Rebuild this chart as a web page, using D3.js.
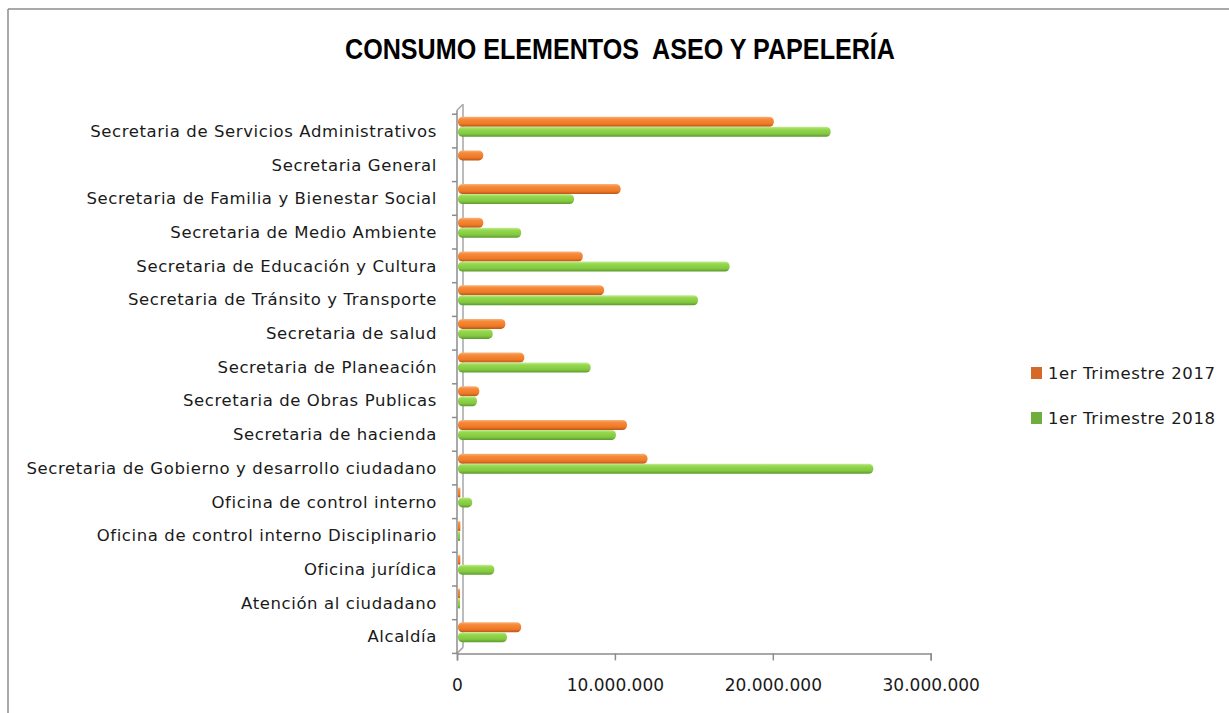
<!DOCTYPE html>
<html>
<head>
<meta charset="utf-8">
<script src="https://cdn.jsdelivr.net/npm/d3@7"></script>
<style>
  body { margin: 0; background: #fff; }
  svg { display: block; }
</style>
</head>
<body>
<svg id="chart"></svg>
<script>
// categories top to bottom
const categories = [
  "Secretaria de Servicios Administrativos",
  "Secretaria General",
  "Secretaria de Familia y Bienestar Social",
  "Secretaria de Medio Ambiente",
  "Secretaria de Educación y Cultura",
  "Secretaria de Tránsito y Transporte",
  "Secretaria de salud",
  "Secretaria de Planeación",
  "Secretaria de Obras Publicas",
  "Secretaria de hacienda",
  "Secretaria de Gobierno y desarrollo ciudadano",
  "Oficina de control interno",
  "Oficina de control interno Disciplinario",
  "Oficina jurídica",
  "Atención al ciudadano",
  "Alcaldía"
];
const trim2017 = [20000000, 1600000, 10300000, 1600000, 7900000, 9250000, 3000000, 4200000, 1350000, 10700000, 12000000, 150000, 150000, 150000, 100000, 4000000];
const trim2018 = [23600000, 0, 7350000, 4000000, 17200000, 15200000, 2200000, 8400000, 1200000, 10000000, 26300000, 900000, 100000, 2300000, 100000, 3100000];
const seriesNames = ["1er Trimestre 2017", "1er Trimestre 2018"];
const xTicks = [0, 10000000, 20000000, 30000000];

const width = 1229, height = 713;
const svg = d3.select("#chart").attr("width", width).attr("height", height);

const locale = d3.formatLocale({decimal: ",", thousands: ".", grouping: [3], currency: ["$", ""]});
const fmt = locale.format(",");

const labelFont = "'DejaVu Sans', Verdana, sans-serif";

// gradients for the cylinder look
const defs = svg.append("defs");
function grad(id, stops) {
  const g = defs.append("linearGradient").attr("id", id)
    .attr("x1", 0).attr("y1", 0).attr("x2", 0).attr("y2", 1);
  stops.forEach(s => g.append("stop").attr("offset", s[0]).attr("stop-color", s[1]));
}
grad("gOrange", [[0, "#f9b47c"], [0.25, "#f68a3a"], [0.7, "#ef7a26"], [1, "#b9561c"]]);
grad("gGreen", [[0, "#c6ec94"], [0.25, "#93d84d"], [0.7, "#84c842"], [1, "#5c9a2c"]]);
const fills = ["url(#gOrange)", "url(#gGreen)"];
const legendFills = ["#d4692a", "#6fae3c"];

// outer frame (only top and left visible)
svg.append("line").attr("x1", 8).attr("x2", width).attr("y1", 9).attr("y2", 9)
  .attr("stroke", "#8c8c8c").attr("stroke-width", 1.5);
svg.append("line").attr("x1", 8).attr("x2", 8).attr("y1", 9).attr("y2", height)
  .attr("stroke", "#8c8c8c").attr("stroke-width", 1.5);

// title
svg.append("text")
  .attr("x", 620).attr("y", 59)
  .attr("text-anchor", "middle")
  .attr("textLength", 550)
  .attr("lengthAdjust", "spacingAndGlyphs")
  .style("font-family", "'Liberation Sans', Arial, sans-serif")
  .style("font-weight", "bold")
  .style("font-size", "29px")
  .style("white-space", "pre")
  .text("CONSUMO ELEMENTOS  ASEO Y PAPELERÍA");

const x = d3.scaleLinear().domain([0, 30000000]).range([457, 930.7]);
const y = d3.scaleBand().domain(categories).range([114.2, 653.4]);

const axisColor = "#8c8c8c";
const depth = 6;

// back wall of the 3D plot
svg.append("line").attr("x1", x(0) + depth).attr("x2", x(0) + depth)
  .attr("y1", y.range()[0] - 10).attr("y2", y.range()[1] - depth)
  .attr("stroke", "#a6a6a6").attr("stroke-width", 1.5);
svg.append("line").attr("x1", x(0)).attr("x2", x(0) + depth)
  .attr("y1", y.range()[0] - 4).attr("y2", y.range()[0] - 10)
  .attr("stroke", "#a6a6a6").attr("stroke-width", 1.5);
svg.append("line").attr("x1", x(0)).attr("x2", x(0) + depth)
  .attr("y1", y.range()[1]).attr("y2", y.range()[1] - depth)
  .attr("stroke", "#a6a6a6").attr("stroke-width", 1.5);

// bars
const barH = 10;
const groups = svg.append("g").selectAll("g")
  .data(categories.map((c, i) => ({cat: c, vals: [trim2017[i], trim2018[i]]})))
  .join("g");

groups.selectAll("rect")
  .data(d => d.vals.map((v, j) => ({cat: d.cat, v: v, j: j})))
  .join("rect")
  .filter(d => d.v > 0)
  .attr("x", x(0) + 1)
  .attr("y", d => y(d.cat) + 2.5 + d.j * barH)
  .attr("width", d => Math.max(2, x(d.v) - x(0)))
  .attr("height", barH)
  .attr("rx", d => Math.min(4.5, (x(d.v) - x(0)) / 2))
  .attr("fill", d => fills[d.j]);

// left axis
const yAxisG = svg.append("g");
yAxisG.append("line").attr("x1", x(0)).attr("x2", x(0))
  .attr("y1", y.range()[0] - 4).attr("y2", y.range()[1])
  .attr("stroke", axisColor).attr("stroke-width", 1.5);
const yTickPos = categories.map(c => y(c)).concat([y.range()[1]]);
yAxisG.selectAll("line.tick").data(yTickPos).join("line")
  .attr("class", "tick")
  .attr("x1", x(0) - 5).attr("x2", x(0))
  .attr("y1", d => d).attr("y2", d => d)
  .attr("stroke", axisColor).attr("stroke-width", 1.5);

yAxisG.selectAll("text").data(categories).join("text")
  .attr("x", 437)
  .attr("y", d => y(d) + y.bandwidth() / 2)
  .attr("dy", "0.35em")
  .attr("text-anchor", "end")
  .style("font-family", labelFont)
  .style("font-size", "16.5px")
  .style("letter-spacing", "0.6px")
  .attr("fill", "#1a1a1a")
  .text(d => d);

// bottom axis
const xAxisG = svg.append("g").attr("transform", `translate(0,${y.range()[1]})`)
  .call(d3.axisBottom(x).tickValues(xTicks).tickSize(7).tickFormat(fmt));
xAxisG.select(".domain").attr("stroke", axisColor).attr("stroke-width", 1.5);
xAxisG.selectAll(".tick line").attr("stroke", axisColor).attr("stroke-width", 1.5);
xAxisG.selectAll(".tick text")
  .attr("y", 26)
  .style("font-family", labelFont)
  .style("font-size", "17px")
  .attr("fill", "#1a1a1a");

// legend
const legend = svg.append("g").selectAll("g").data(seriesNames).join("g")
  .attr("transform", (d, i) => `translate(1031,${367 + i * 45})`);
legend.append("rect").attr("width", 11).attr("height", 12)
  .attr("fill", (d, i) => legendFills[i]);
legend.append("text")
  .attr("x", 17).attr("y", 6).attr("dy", "0.35em")
  .style("font-family", labelFont)
  .style("font-size", "16.5px")
  .style("letter-spacing", "0.6px")
  .attr("fill", "#1a1a1a")
  .text(d => d);
</script>
</body>
</html>
